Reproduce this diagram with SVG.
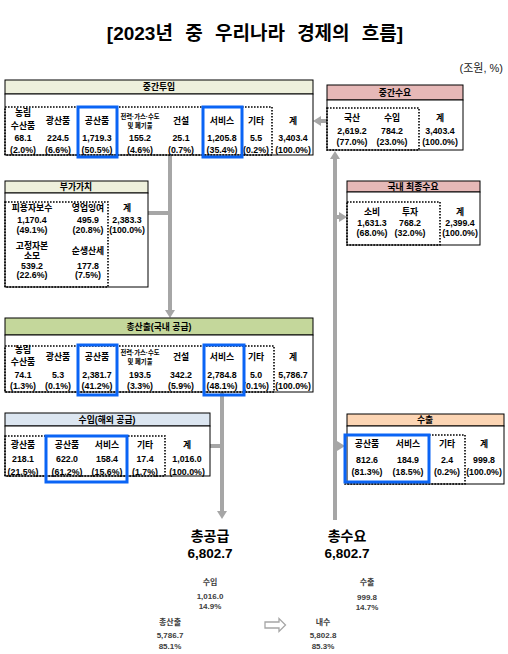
<svg xmlns="http://www.w3.org/2000/svg" width="508" height="654" viewBox="0 0 508 654">
<defs>
<style>
text{font-family:"Liberation Sans","Noto Sans CJK KR",sans-serif;font-weight:bold;fill:#000;text-anchor:middle;dominant-baseline:central}
.t{font-size:8.8px}
.s{font-size:6.3px}
.h{font-size:8.8px}
.box{fill:#fff;stroke:#000;stroke-width:1}
.dot{fill:none;stroke:#000;stroke-width:1.6;stroke-dasharray:1.6 1.4}
.blue{fill:none;stroke:#0a64f5;stroke-width:3}
.con{fill:none;stroke:#a6a6a6;stroke-width:4}
.g1{fill:#eef0dc;stroke:#000;stroke-width:1}
.g2{fill:#c4d79b;stroke:#000;stroke-width:1}
.pk{fill:#e6b8b7;stroke:#000;stroke-width:1}
.bl{fill:#dce6f1;stroke:#000;stroke-width:1}
.or{fill:#fcd5b4;stroke:#000;stroke-width:1}
.sm{font-size:8px;fill:#404040}
</style>
<marker id="ah" markerUnits="userSpaceOnUse" markerWidth="9" markerHeight="10" refX="1" refY="5" orient="auto">
<path d="M0,0 L8,5 L0,10 z" fill="#a6a6a6"/>
</marker>
</defs>
<rect width="508" height="654" fill="#fff"/>
<text x="255" y="33" style="font-size:19px;word-spacing:7px">[2023년 중 우리나라 경제의 흐름]</text>
<text x="503" y="68" style="font-size:11px;font-weight:normal;text-anchor:end;fill:#222">(조원, %)</text>

<g id="connectors">
<line class="con" x1="170" y1="155" x2="170" y2="311" marker-end="url(#ah)"/>
<line class="con" x1="148" y1="213" x2="170" y2="213"/>
<line class="con" x1="222" y1="392" x2="222" y2="512" marker-end="url(#ah)"/>
<line class="con" x1="210" y1="446" x2="222" y2="446"/>
<line class="con" x1="335" y1="520" x2="335" y2="158" marker-end="url(#ah)"/>
<line class="con" x1="335" y1="217" x2="340" y2="217" marker-end="url(#ah)"/>
<line class="con" x1="335" y1="446" x2="338" y2="446" marker-end="url(#ah)"/>
<line class="con" x1="327" y1="121" x2="320" y2="121" marker-end="url(#ah)"/>
</g>

<g id="intermediate-input">
<rect class="g1" x="5" y="80" width="308" height="14"/>
<rect class="box" x="5" y="94" width="308" height="61"/>
<text class="h" x="159" y="87">중간투입</text>
<rect class="dot" x="5" y="107" width="267" height="48"/>
<text class="t" x="23" y="113">농림</text><text class="t" x="23" y="126">수산품</text>
<text class="t" x="58" y="121">광산품</text>
<text class="t" x="97" y="121">공산품</text>
<text class="s" x="140" y="116">전력·가스·수도</text><text class="s" x="140" y="125">및 폐기물</text>
<text class="t" x="181" y="121">건설</text>
<text class="t" x="222" y="121">서비스</text>
<text class="t" x="256" y="121">기타</text>
<text class="t" x="293" y="121">계</text>
<text class="t" x="23" y="138">68.1</text><text class="t" x="23" y="150">(2.0%)</text>
<text class="t" x="58" y="138">224.5</text><text class="t" x="58" y="150">(6.6%)</text>
<text class="t" x="97" y="138">1,719.3</text><text class="t" x="97" y="150">(50.5%)</text>
<text class="t" x="140" y="138">155.2</text><text class="t" x="140" y="150">(4.6%)</text>
<text class="t" x="181" y="138">25.1</text><text class="t" x="181" y="150">(0.7%)</text>
<text class="t" x="222" y="138">1,205.8</text><text class="t" x="222" y="150">(35.4%)</text>
<text class="t" x="256" y="138">5.5</text><text class="t" x="256" y="150">(0.2%)</text>
<text class="t" x="293" y="138">3,403.4</text><text class="t" x="293" y="150">(100.0%)</text>
<rect class="blue" x="78" y="107" width="39" height="50"/>
<rect class="blue" x="203" y="107" width="39" height="50"/>
</g>

<g id="intermediate-demand">
<rect class="pk" x="327" y="85" width="136" height="15"/>
<rect class="box" x="327" y="100" width="136" height="50"/>
<text class="h" x="395" y="92.5">중간수요</text>
<rect class="dot" x="327" y="108" width="92" height="42"/>
<text class="t" x="352" y="118">국산</text><text class="t" x="352" y="131">2,619.2</text><text class="t" x="352" y="142">(77.0%)</text>
<text class="t" x="392" y="118">수입</text><text class="t" x="392" y="131">784.2</text><text class="t" x="392" y="142">(23.0%)</text>
<text class="t" x="440" y="118">계</text><text class="t" x="440" y="131">3,403.4</text><text class="t" x="440" y="142">(100.0%)</text>
</g>

<g id="value-added">
<rect class="g1" x="5" y="181" width="143" height="12"/>
<rect class="box" x="5" y="193" width="143" height="94"/>
<text class="h" x="76" y="187">부가가치</text>
<rect class="dot" x="5" y="202" width="103" height="85"/>
<text class="t" x="32" y="208">피용자보수</text><text class="t" x="32" y="220">1,170.4</text><text class="t" x="32" y="230">(49.1%)</text>
<text class="t" x="88" y="208">영업잉여</text><text class="t" x="88" y="220">495.9</text><text class="t" x="88" y="230">(20.8%)</text>
<text class="t" x="127" y="208">계</text><text class="t" x="127" y="220">2,383.3</text><text class="t" x="127" y="230">(100.0%)</text>
<text class="t" x="32" y="246">고정자본</text><text class="t" x="32" y="256">소모</text><text class="t" x="32" y="265.5">539.2</text><text class="t" x="32" y="275">(22.6%)</text>
<text class="t" x="88" y="251">순생산세</text><text class="t" x="88" y="265.5">177.8</text><text class="t" x="88" y="275">(7.5%)</text>
</g>

<g id="total-output">
<rect class="g2" x="5" y="318" width="308" height="17"/>
<rect class="box" x="5" y="335" width="308" height="57"/>
<text class="h" x="159" y="326.5">총산출(국내 공급)</text>
<rect class="dot" x="5" y="346" width="269" height="46"/>
<text class="t" x="23" y="350">농림</text><text class="t" x="23" y="362">수산품</text>
<text class="t" x="58" y="357">광산품</text>
<text class="t" x="97" y="357">공산품</text>
<text class="s" x="140" y="352">전력·가스·수도</text><text class="s" x="140" y="361">및 폐기물</text>
<text class="t" x="181" y="357">건설</text>
<text class="t" x="222" y="357">서비스</text>
<text class="t" x="256" y="357">기타</text>
<text class="t" x="293" y="357">계</text>
<text class="t" x="23" y="375">74.1</text><text class="t" x="23" y="386">(1.3%)</text>
<text class="t" x="58" y="375">5.3</text><text class="t" x="58" y="386">(0.1%)</text>
<text class="t" x="97" y="375">2,381.7</text><text class="t" x="97" y="386">(41.2%)</text>
<text class="t" x="140" y="375">193.5</text><text class="t" x="140" y="386">(3.3%)</text>
<text class="t" x="181" y="375">342.2</text><text class="t" x="181" y="386">(5.9%)</text>
<text class="t" x="222" y="375">2,784.8</text><text class="t" x="222" y="386">(48.1%)</text>
<text class="t" x="256" y="375">5.0</text><text class="t" x="256" y="386">(0.1%)</text>
<text class="t" x="293" y="375">5,786.7</text><text class="t" x="293" y="386">(100.0%)</text>
<rect class="blue" x="78" y="345" width="39" height="50"/>
<rect class="blue" x="204" y="345" width="40" height="50"/>
</g>

<g id="imports">
<rect class="bl" x="5" y="413" width="205" height="13"/>
<rect class="box" x="5" y="426" width="205" height="50"/>
<text class="h" x="107" y="419.5">수입(해외 공급)</text>
<rect class="dot" x="5" y="436" width="160" height="40"/>
<text class="t" x="23" y="445">광산품</text><text class="t" x="23" y="459">218.1</text><text class="t" x="23" y="472">(21.5%)</text>
<text class="t" x="67" y="445">공산품</text><text class="t" x="67" y="459">622.0</text><text class="t" x="67" y="472">(61.2%)</text>
<text class="t" x="107" y="445">서비스</text><text class="t" x="107" y="459">158.4</text><text class="t" x="107" y="472">(15.6%)</text>
<text class="t" x="145" y="445">기타</text><text class="t" x="145" y="459">17.4</text><text class="t" x="145" y="472">(1.7%)</text>
<text class="t" x="187" y="445">계</text><text class="t" x="187" y="459">1,016.0</text><text class="t" x="187" y="472">(100.0%)</text>
<rect class="blue" x="46" y="436" width="81" height="46"/>
</g>

<g id="final-demand">
<rect class="pk" x="347" y="181" width="133" height="11"/>
<rect class="box" x="347" y="192" width="133" height="53"/>
<text class="h" x="413" y="186.5">국내 최종수요</text>
<rect class="dot" x="347" y="202" width="93" height="43"/>
<text class="t" x="372" y="212">소비</text><text class="t" x="372" y="223">1,631.3</text><text class="t" x="372" y="233">(68.0%)</text>
<text class="t" x="410" y="212">투자</text><text class="t" x="410" y="223">768.2</text><text class="t" x="410" y="233">(32.0%)</text>
<text class="t" x="460" y="212">계</text><text class="t" x="460" y="223">2,399.4</text><text class="t" x="460" y="233">(100.0%)</text>
</g>

<g id="exports">
<rect class="or" x="347" y="414" width="157" height="12"/>
<rect class="box" x="347" y="426" width="157" height="58"/>
<text class="h" x="425" y="420">수출</text>
<rect class="dot" x="345" y="435" width="120" height="49"/>
<text class="t" x="367" y="444">공산품</text><text class="t" x="367" y="460">812.6</text><text class="t" x="367" y="472">(81.3%)</text>
<text class="t" x="408" y="444">서비스</text><text class="t" x="408" y="460">184.9</text><text class="t" x="408" y="472">(18.5%)</text>
<text class="t" x="447" y="444">기타</text><text class="t" x="447" y="460">2.4</text><text class="t" x="447" y="472">(0.2%)</text>
<text class="t" x="484" y="444">계</text><text class="t" x="484" y="460">999.8</text><text class="t" x="484" y="472">(100.0%)</text>
<rect class="blue" x="345" y="435" width="84" height="47"/>
</g>

<g id="total-supply">
<text x="210" y="536" style="font-size:14px">총공급</text>
<text x="210" y="553" style="font-size:13.5px">6,802.7</text>
<text class="sm" x="210" y="582">수입</text>
<text class="sm" x="210" y="596">1,016.0</text>
<text class="sm" x="210" y="606">14.9%</text>
<text class="sm" x="170" y="622">총산출</text>
<text class="sm" x="170" y="635">5,786.7</text>
<text class="sm" x="170" y="646">85.1%</text>
</g>

<g id="total-demand">
<text x="347" y="536" style="font-size:14px">총수요</text>
<text x="347" y="553" style="font-size:13.5px">6,802.7</text>
<text class="sm" x="367" y="582">수출</text>
<text class="sm" x="367" y="597">999.8</text>
<text class="sm" x="367" y="607">14.7%</text>
<text class="sm" x="323" y="622">내수</text>
<text class="sm" x="323" y="635">5,802.8</text>
<text class="sm" x="323" y="646">85.3%</text>
</g>

<g id="equal-arrow">
<path d="M265,622 L279,622 L279,618.5 L285.5,625 L279,631.5 L279,628 L265,628 z" fill="#fff" stroke="#a6a6a6" stroke-width="1.3"/>
</g>
</svg>
